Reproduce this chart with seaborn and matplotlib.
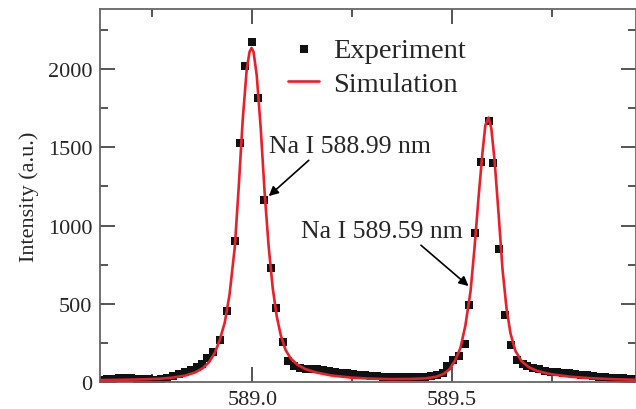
import matplotlib
matplotlib.use("Agg")
import matplotlib.pyplot as plt
from matplotlib.ticker import MultipleLocator
import seaborn as sns
import pandas as pd

exp_wavelength = [
    588.621, 588.636, 588.651, 588.666, 588.681, 588.696, 588.711, 588.726, 588.741, 588.756,
    588.771, 588.786, 588.801, 588.816, 588.831, 588.846, 588.861, 588.873, 588.886, 588.901,
    588.918, 588.936, 588.956, 588.968, 588.981, 588.998, 589.013, 589.028, 589.046, 589.058,
    589.076, 589.088, 589.103, 589.118, 589.133, 589.148, 589.163, 589.178, 589.193, 589.208,
    589.223, 589.238, 589.253, 589.268, 589.283, 589.298, 589.313, 589.328, 589.343, 589.358,
    589.373, 589.388, 589.403, 589.418, 589.433, 589.448, 589.463, 589.476, 589.486, 589.501,
    589.516, 589.531, 589.543, 589.558, 589.571, 589.591, 589.603, 589.618, 589.633, 589.646,
    589.661, 589.676, 589.688, 589.703, 589.718, 589.733, 589.748, 589.763, 589.778, 589.793,
    589.808, 589.823, 589.838, 589.853, 589.868, 589.883, 589.898, 589.913, 589.928, 589.943,
    589.958,
]
exp_intensity = [
    15, 18, 20, 22, 22, 25, 20, 18, 16, 15,
    18, 25, 35, 48, 62, 75, 95, 115, 150, 192,
    268, 454, 901, 1527, 2019, 2173, 1815, 1163, 728, 473,
    256, 134, 105, 92, 85, 82, 80, 76, 72, 66,
    60, 55, 50, 45, 42, 38, 35, 33, 32, 31,
    30, 30, 30, 31, 32, 35, 42, 55, 102, 140,
    165, 243, 495, 955, 1405, 1670, 1400, 850, 430, 236,
    141, 115, 102, 88, 80, 72, 66, 62, 58, 54,
    50, 47, 42, 38, 34, 30, 27, 24, 22, 20,
    18,
]

# simulated spectrum
sim_wavelength = [
    588.621, 588.658, 588.696, 588.733, 588.771, 588.801, 588.831, 588.856, 588.876, 588.891,
    588.906, 588.918, 588.931, 588.943, 588.956, 588.966, 588.976, 588.986, 588.993, 588.998,
    589.003, 589.011, 589.021, 589.031, 589.041, 589.051, 589.061, 589.071, 589.083, 589.096,
    589.113, 589.133, 589.158, 589.196, 589.246, 589.296, 589.346, 589.396, 589.433, 589.458,
    589.478, 589.493, 589.508, 589.521, 589.533, 589.546, 589.556, 589.566, 589.576, 589.583,
    589.591, 589.598, 589.606, 589.616, 589.626, 589.636, 589.646, 589.658, 589.673, 589.691,
    589.713, 589.746, 589.796, 589.846, 589.908, 589.961,
]
sim_intensity = [
    12, 13, 15, 17, 21, 28, 40, 60, 88, 125,
    185, 265, 380, 560, 860, 1250, 1680, 2000, 2110, 2135,
    2110, 1960, 1620, 1200, 860, 600, 420, 300, 205, 150,
    110, 82, 62, 42, 28, 21, 18, 19, 23, 32,
    50, 80, 140, 220, 360, 580, 860, 1180, 1470, 1640,
    1690, 1620, 1420, 1080, 720, 470, 310, 200, 135, 95,
    70, 50, 33, 24, 17, 14,
]

exp_df = pd.DataFrame({"wavelength": exp_wavelength, "intensity": exp_intensity})
sim_df = pd.DataFrame({"wavelength": sim_wavelength, "intensity": sim_intensity})

sns.set_style("ticks")
plt.rcParams["font.family"] = ["Liberation Serif", "DejaVu Serif"]

fig = plt.figure(figsize=(6.36, 4.10), dpi=100)
ax = fig.add_axes([0.158, 0.066, 0.842, 0.91])

sns.scatterplot(data=exp_df, x="wavelength", y="intensity", marker="s", s=32,
                color="#111111", linewidth=0, label="Experiment", ax=ax, zorder=2)
sns.lineplot(data=sim_df, x="wavelength", y="intensity", color="#e8202a",
             linewidth=1.9, label="Simulation", ax=ax, zorder=3)

ax.set_xlim(588.62, 589.96)
ax.set_ylim(0, 2385)
ax.xaxis.set_major_locator(MultipleLocator(0.5))
ax.xaxis.set_minor_locator(MultipleLocator(0.25))
ax.yaxis.set_major_locator(MultipleLocator(500))
ax.yaxis.set_minor_locator(MultipleLocator(250))
ax.xaxis.set_major_formatter(matplotlib.ticker.FormatStrFormatter("%.1f"))

ax.tick_params(which="both", direction="in", top=True, right=True,
               color="#555555", width=1.4, labelsize=16, pad=6)
ax.tick_params(which="major", length=11)
ax.tick_params(which="minor", length=6)
for sp in ax.spines.values():
    sp.set_color("#666666")
    sp.set_linewidth(1.3)

ax.set_xlabel("")
ax.set_ylabel("Intensity (a.u.)", fontsize=16, labelpad=6)

# annotations for the two sodium D lines
ax.annotate("Na I 588.99 nm", xy=(589.041, 1188), xytext=(589.041, 1508),
            fontsize=18.5, va="center", ha="left",
            arrowprops=dict(arrowstyle="-|>", color="black", lw=1.2,
                            mutation_scale=14, shrinkA=0, shrinkB=0,
                            relpos=(0.27, 0.0)))
ax.annotate("Na I 589.59 nm", xy=(589.541, 613), xytext=(589.121, 965),
            fontsize=18.5, va="center", ha="left",
            arrowprops=dict(arrowstyle="-|>", color="black", lw=1.2,
                            mutation_scale=14, shrinkA=0, shrinkB=0,
                            relpos=(0.72, 0.0)))

leg = ax.legend(loc="upper left", bbox_to_anchor=(0.35, 0.925), frameon=False,
                fontsize=20.5, handlelength=1.1, handletextpad=0.5,
                labelspacing=0.3, borderpad=0, borderaxespad=0, markerscale=1.1)

fig.savefig("out.png", dpi=100)
